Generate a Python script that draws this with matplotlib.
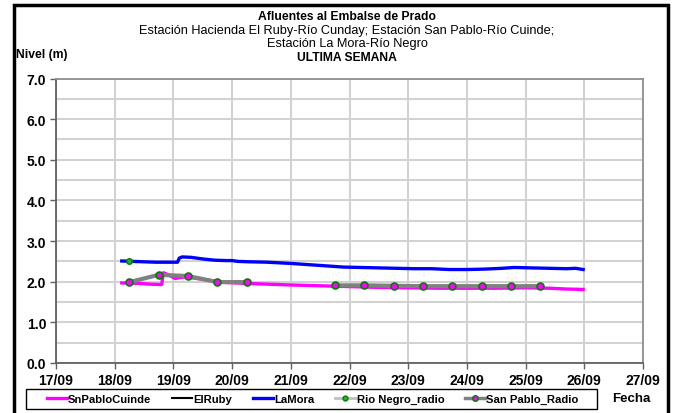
"""Afluentes al Embalse de Prado - ultima semana"""

import matplotlib.pyplot as plt
from matplotlib.patches import Rectangle
from matplotlib.lines import Line2D
import numpy as np

plt.rcParams['font.family'] = ['Liberation Sans', 'DejaVu Sans']

# dias de septiembre (fraccion de dia)
lamora_x = [18.12, 18.3, 18.5, 18.7, 18.9, 19.07, 19.1, 19.15, 19.3, 19.5, 19.7,
            19.9, 20.0, 20.1, 20.3, 20.6, 21.0, 21.3, 21.6, 21.9, 22.2, 22.5,
            22.8, 23.1, 23.4, 23.7, 24.0, 24.3, 24.6, 24.8, 25.1, 25.4, 25.7,
            25.85, 25.98]
lamora_y = [2.51, 2.50, 2.49, 2.48, 2.48, 2.48, 2.58, 2.61, 2.60, 2.56, 2.53,
            2.52, 2.52, 2.50, 2.49, 2.48, 2.45, 2.42, 2.39, 2.36, 2.35, 2.34,
            2.33, 2.32, 2.32, 2.30, 2.30, 2.31, 2.33, 2.35, 2.34, 2.33, 2.32,
            2.33, 2.30]

cuinde_x = [18.12, 18.4, 18.6, 18.8, 18.83, 18.9, 19.03, 19.2, 19.5, 19.8, 20.2,
            20.6, 21.0, 21.5, 22.0, 22.5, 23.0, 23.5, 24.0, 24.5, 25.0, 25.4,
            25.7, 25.98]
cuinde_y = [1.97, 1.96, 1.94, 1.93, 2.22, 2.18, 2.08, 2.12, 2.06, 1.99, 1.96,
            1.94, 1.92, 1.90, 1.88, 1.86, 1.85, 1.84, 1.84, 1.84, 1.85, 1.84,
            1.82, 1.81]

ruby_x = []
ruby_y = []

rionegro_x = [18.25]
rionegro_y = [2.51]

sanpablo_x = [18.25, 18.75, 19.25, 19.75, 20.25, np.nan, 21.75, 22.25, 22.75,
              23.25, 23.75, 24.25, 24.75, 25.25]
sanpablo_y = [1.99, 2.17, 2.14, 1.99, 1.99, np.nan, 1.91, 1.91, 1.90,
              1.89, 1.89, 1.89, 1.89, 1.89]

xticks = list(range(17, 28))
xlabels = ['%02d/09' % d for d in xticks]
yticks = np.arange(0, 7.01, 1.0)

fig = plt.figure(figsize=(6.73, 4.14), dpi=100)
ax = fig.add_axes([56 / 673, 50 / 414, 587 / 673, 284.5 / 414])

ax.plot(cuinde_x, cuinde_y, color='#ff00ff', lw=2.4, zorder=3)
ax.plot(ruby_x, ruby_y, color='black', lw=1.5, zorder=3)
ax.plot(lamora_x, lamora_y, color='#0000ff', lw=2.4, zorder=3)
ax.plot(sanpablo_x, sanpablo_y, color='#808080', lw=3, marker='o', ms=5,
        mfc='#ff00ff', mec='#008000', mew=1.2, zorder=4)
ax.plot(rionegro_x, rionegro_y, color='#c0c0c0', lw=2, marker='o', ms=4,
        mfc='#33aa33', mec='#008000', zorder=5)

ax.set_xlim(17, 27)
ax.set_ylim(0, 7)
ax.set_xticks(xticks)
ax.set_xticklabels(xlabels, fontweight='bold', fontsize=10)
ax.set_yticks(yticks)
ax.set_yticklabels(['%.1f' % v for v in yticks], fontweight='bold', fontsize=10)
ax.set_yticks(np.arange(0.5, 7, 1.0), minor=True)
ax.tick_params(axis='y', which='minor', length=0)
ax.tick_params(which='major', direction='out', length=4, color='#606060',
               width=1, pad=3)
ax.grid(True, which='both', color='#d2d2d2', linewidth=1.5)
ax.set_axisbelow(True)
for s in ['left', 'bottom']:
    ax.spines[s].set_color('#606060')
    ax.spines[s].set_linewidth(1.3)
for s in ['top', 'right']:
    ax.spines[s].set_color('#909090')
    ax.spines[s].set_linewidth(1.3)

# titulos
fig.text(347 / 673, 1 - 17 / 414, 'Afluentes al Embalse de Prado', ha='center',
         va='center', fontweight='bold', fontsize=8.7)
fig.text(347 / 673, 1 - 31 / 414,
         'Estación Hacienda El Ruby-Río Cunday; Estación San Pablo-Río Cuinde;',
         ha='center', va='center', fontsize=9.2)
fig.text(347 / 673, 1 - 44 / 414, 'Estación La Mora-Río Negro', ha='center',
         va='center', fontsize=9.2)
fig.text(347 / 673, 1 - 58 / 414, 'ULTIMA SEMANA', ha='center', va='center',
         fontweight='bold', fontsize=8.7)
fig.text(16 / 673, 1 - 55 / 414, 'Nivel (m)', ha='left', va='center',
         fontweight='bold', fontsize=8.7)
fig.text(612 / 673, 1 - 399 / 414, 'Fecha', ha='left', va='center',
         fontweight='bold', fontsize=9.5)

# leyenda
handles = [
    Line2D([], [], color='#ff00ff', lw=2.4),
    Line2D([], [], color='black', lw=1.5),
    Line2D([], [], color='#0000ff', lw=2.4),
    Line2D([], [], color='#c0c0c0', lw=2, marker='o', ms=3.5, mfc='#33aa33', mec='#008000'),
    Line2D([], [], color='#808080', lw=2.5, marker='o', ms=4, mfc='#ff00ff', mec='#008000'),
]
names = ['SnPabloCuinde', 'ElRuby', 'LaMora', 'Rio Negro_radio', 'San Pablo_Radio']
leg = fig.legend(handles, names, loc='center left', ncol=5,
                 bbox_to_anchor=(46.5 / 673, 1 - 400 / 414), frameon=False,
                 prop={'weight': 'bold', 'size': 8.1}, handlelength=1.8,
                 handletextpad=0.1, columnspacing=1.85, borderpad=0,
                 borderaxespad=0)
fig.patches.append(Rectangle((26 / 673, 4 / 414), 571 / 673, 20 / 414,
                             transform=fig.transFigure, fill=False,
                             edgecolor='black', linewidth=1))

# marco exterior
fig.patches.append(Rectangle((14 / 673, -0.05), 654 / 673, 0.05 + 1 - 6 / 414,
                             transform=fig.transFigure, fill=False,
                             edgecolor='black', linewidth=2.5))

fig.savefig('out.png', dpi=100)
